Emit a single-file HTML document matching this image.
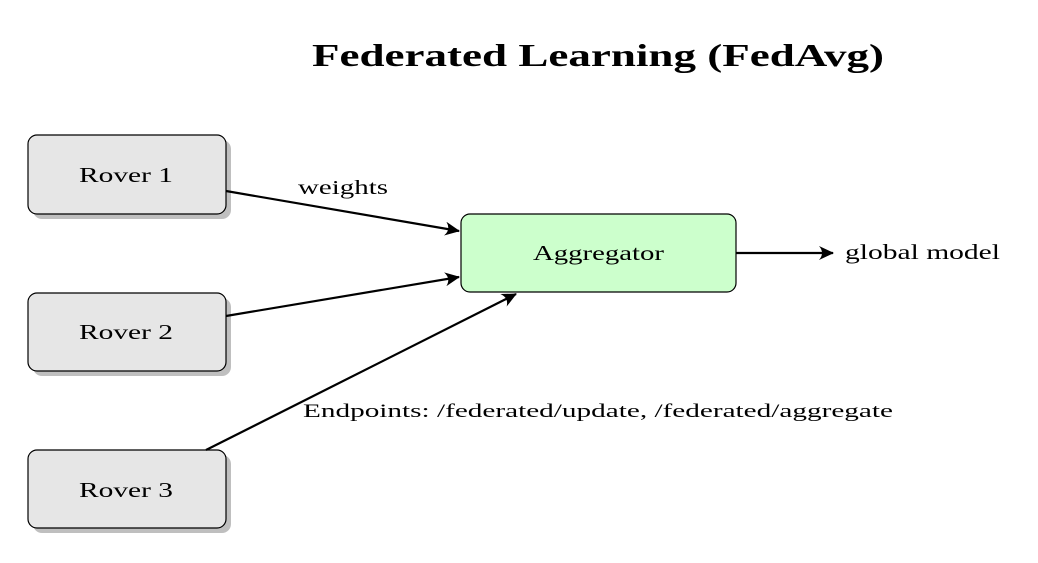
<!DOCTYPE html>
<html><head><style>
body{margin:0;background:#fff;width:1038px;height:558px;overflow:hidden}
svg text{font-family:"Liberation Serif",serif;fill:#000}
</style></head><body>
<svg width="1038" height="558" viewBox="0 0 1038 558">
<defs>
<marker id="a" markerWidth="16" markerHeight="14" refX="14" refY="7" orient="auto" markerUnits="userSpaceOnUse">
<path d="M0,0 Q6,7 0,14 L15,7 Z" fill="#000"/>
</marker>
</defs>
<text x="312" y="66" font-size="32" font-weight="bold" textLength="572" lengthAdjust="spacingAndGlyphs">Federated Learning (FedAvg)</text>
<g>
<rect x="33" y="140" width="198" height="79" rx="9" fill="#bfbfbf"/>
<rect x="28" y="135" width="198" height="79" rx="9" fill="#e6e6e6" stroke="#000" stroke-width="1.2"/>
<text x="79" y="182" font-size="21" textLength="94" lengthAdjust="spacingAndGlyphs">Rover 1</text>
<rect x="33" y="298" width="198" height="78" rx="9" fill="#bfbfbf"/>
<rect x="28" y="293" width="198" height="78" rx="9" fill="#e6e6e6" stroke="#000" stroke-width="1.2"/>
<text x="79" y="339" font-size="21" textLength="94" lengthAdjust="spacingAndGlyphs">Rover 2</text>
<rect x="33" y="455" width="198" height="78" rx="9" fill="#bfbfbf"/>
<rect x="28" y="450" width="198" height="78" rx="9" fill="#e6e6e6" stroke="#000" stroke-width="1.2"/>
<text x="79" y="497" font-size="21" textLength="94" lengthAdjust="spacingAndGlyphs">Rover 3</text>
<rect x="461" y="214" width="275" height="78" rx="9" fill="#ccffcc" stroke="#000" stroke-width="1.2"/>
<text x="533" y="260" font-size="21" textLength="131" lengthAdjust="spacingAndGlyphs">Aggregator</text>
</g>
<g stroke="#000" stroke-width="2.2" fill="none" marker-end="url(#a)">
<line x1="226" y1="191" x2="459" y2="231"/>
<line x1="226" y1="316" x2="459" y2="277"/>
<line x1="206" y1="450" x2="516" y2="294"/>
<line x1="736" y1="253" x2="833" y2="253"/>
</g>
<text x="298" y="194" font-size="20" textLength="90" lengthAdjust="spacingAndGlyphs">weights</text>
<text x="845" y="259" font-size="21" textLength="155" lengthAdjust="spacingAndGlyphs">global model</text>
<text x="303" y="417" font-size="19" textLength="590" lengthAdjust="spacingAndGlyphs">Endpoints: /federated/update, /federated/aggregate</text>
</svg>
</body></html>
